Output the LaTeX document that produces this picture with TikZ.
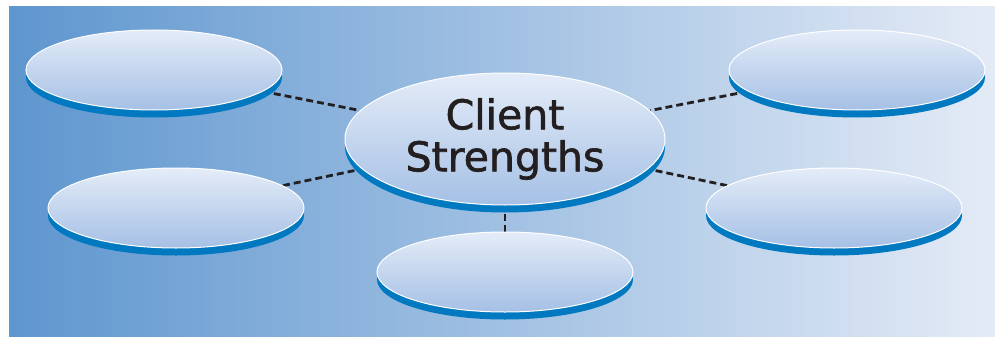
\documentclass[tikz,border=0pt]{standalone}
\usepackage{fontspec}
\setmainfont{DejaVu Sans}
\newfontfamily\bubblefont[FakeBold=1.5]{DejaVu Sans}
\usetikzlibrary{shapes.geometric,shadows,backgrounds}
\definecolor{bgleft}{HTML}{5E96CF}
\definecolor{bgright}{HTML}{E4EBF6}
\definecolor{rimblue}{HTML}{0079C1}
\definecolor{bubtop}{HTML}{E4ECF8}
\definecolor{bubbot}{HTML}{A5C0E5}
\definecolor{ink}{HTML}{231F20}
\tikzset{
  bubble/.style={ellipse, inner sep=0pt, minimum width=256pt, minimum height=80pt, draw=white, line width=1pt,
    top color=bubtop, bottom color=bubbot, general shadow={shadow xshift=0pt, shadow yshift=-7.5pt, fill=rimblue}},
  link/.style={draw=ink, line width=2.8pt, dash pattern=on 7pt off 4pt}
}
\begin{document}
\begin{tikzpicture}[x=1pt,y=-1pt]
\useasboundingbox (0,0) rectangle (995,337);
\node[bubble, minimum width=320pt, minimum height=132pt, align=center, font=\bubblefont\fontsize{41}{42}\selectfont, text=ink] (c) at (505,139) {Client\\Strengths};
\foreach \n/\x/\y in { tl/154/70 , tr/857/70 , ml/176/208 , mr/834/208 , b/505/272 } { \node[bubble] (\n) at (\x,\y) {}; };
\begin{scope}[on background layer]
\shade[left color=bgleft, right color=bgright] (9,7) rectangle (995,337);
\foreach \n in {tl,tr,ml,mr,b} { \draw[link] (\n) -- (c); };
\end{scope}
\end{tikzpicture}
\end{document}
